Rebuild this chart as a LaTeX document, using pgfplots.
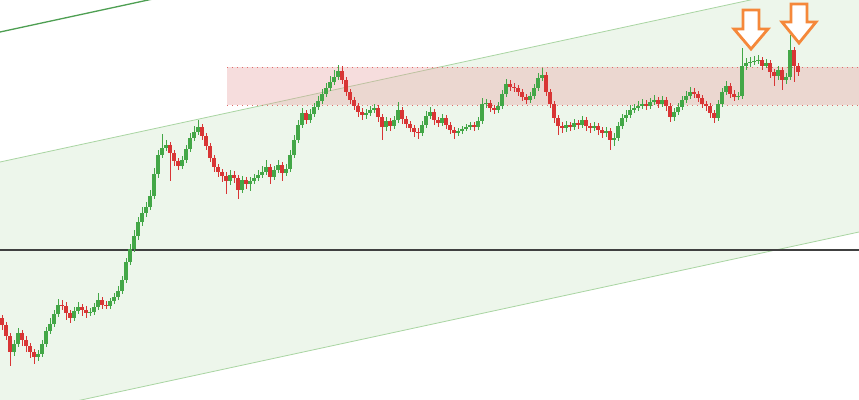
\documentclass[border=0pt]{standalone}
\usepackage{pgfplots}
\usepackage{pgfplotstable}
\pgfplotsset{compat=1.18}
\definecolor{bandfill}{HTML}{EDF6EB}
\definecolor{bandline}{HTML}{A9D5A2}
\definecolor{chanline}{HTML}{4E9F52}
\definecolor{upc}{HTML}{43A747}
\definecolor{dnc}{HTML}{D83535}
\definecolor{zonefill}{HTML}{E8A0A0}
\definecolor{zoneline}{HTML}{E06A6A}
\definecolor{arrowc}{HTML}{F5883A}
\pgfplotstableread{
x o c h l
2 318 325 315 330
6 325 336 322 340
10 336 352 333 366
14 352 344 340 356
18 344 333 328 347
22 333 340 330 346
26 340 346 336 352
30 346 352 343 358
34 352 357 349 364
38 357 354 350 361
42 354 344 340 357
46 344 331 327 347
50 331 324 318 334
54 324 314 310 327
58 314 305 299 317
62 305 306 300 310
66 306 313 302 320
70 313 318 310 323
74 318 311 307 321
78 311 307 302 314
82 307 310 304 316
86 310 313 306 318
90 313 312 308 316
94 312 307 303 315
98 307 300 293 310
102 300 305 297 309
106 305 306 301 309
110 306 301 298 309
114 301 297 293 304
118 297 291 286 300
122 291 280 276 294
126 280 262 258 283
130 262 249 244 265
134 249 236 230 252
138 236 222 217 240
142 222 213 207 226
146 213 207 202 217
150 207 196 190 210
154 196 174 168 199
158 174 155 150 178
162 155 148 134 158
166 148 145 140 151
170 145 153 142 181
174 153 161 150 166
178 161 166 158 170
182 166 160 156 169
186 160 149 145 163
190 149 138 133 152
194 138 132 126 141
198 132 127 120 135
202 127 136 124 140
206 136 146 133 150
210 146 158 143 162
214 158 167 155 172
218 167 172 164 177
222 172 176 169 182
226 176 181 172 194
230 181 175 170 185
234 175 178 171 183
238 178 190 175 199
242 190 180 176 193
246 180 184 177 189
250 184 181 177 191
254 181 178 174 184
258 178 175 170 181
262 175 172 166 178
266 172 167 160 175
270 167 177 164 184
274 177 170 166 180
278 170 165 160 173
282 165 173 162 181
286 173 169 164 176
290 169 155 150 172
294 155 140 135 158
298 140 125 120 143
302 125 113 108 128
306 113 120 110 124
310 120 114 109 123
314 114 107 103 117
318 107 101 96 110
322 101 94 89 104
326 94 88 83 97
330 88 82 76 91
334 82 77 70 85
338 77 71 65 80
342 71 80 66 84
346 80 92 77 96
350 92 100 89 104
354 100 106 97 110
358 106 112 103 117
362 112 115 108 120
366 115 113 109 119
370 113 110 106 116
374 110 108 104 113
378 108 117 105 122
382 117 127 114 140
386 127 121 117 131
390 121 126 118 131
394 126 120 116 129
398 120 110 102 123
402 110 119 107 124
406 119 124 116 128
410 124 128 121 132
414 128 132 125 137
418 132 133 128 139
422 133 125 121 136
426 125 116 111 128
430 116 112 107 119
434 112 120 109 125
438 120 123 117 127
442 123 118 114 126
446 118 125 115 129
450 125 130 122 134
454 130 133 127 139
458 133 131 128 136
462 131 129 126 134
466 129 127 124 131
470 127 125 122 130
474 125 127 122 131
478 127 121 117 130
482 121 104 98 124
486 104 103 99 108
490 103 108 100 112
494 108 110 105 114
498 110 106 102 113
502 106 94 90 109
506 94 84 79 97
510 84 87 80 91
514 87 88 83 92
518 88 92 85 96
522 92 97 89 101
526 97 100 94 104
530 100 96 92 103
534 96 88 84 99
538 88 78 73 91
542 78 75 68 81
546 75 92 72 96
550 92 104 89 108
554 104 118 101 123
558 118 126 115 135
562 126 128 122 133
566 128 125 121 132
570 125 127 122 131
574 127 123 119 130
578 123 125 120 129
582 125 120 116 128
586 120 126 117 131
590 126 128 123 133
594 128 126 122 131
598 126 130 123 135
602 130 133 127 138
606 133 131 127 137
610 131 140 128 150
614 140 138 133 146
618 138 126 122 141
622 126 118 114 129
626 118 115 110 122
630 115 110 105 118
634 110 108 104 113
638 108 106 101 111
642 106 104 99 109
646 104 106 100 110
650 106 102 98 109
654 102 100 95 105
658 100 104 97 108
662 104 100 96 107
666 100 106 97 111
670 106 117 103 122
674 117 112 108 121
678 112 107 103 115
682 107 100 96 110
686 100 96 91 103
690 96 92 87 99
694 92 94 88 98
698 94 98 91 102
702 98 104 95 108
706 104 106 101 111
710 106 113 103 118
714 113 118 110 123
718 118 104 100 121
722 104 92 88 107
726 92 86 81 95
730 86 94 83 98
734 94 97 90 101
738 97 96 92 100
742 96 66 48 99
746 66 63 58 70
750 63 62 57 67
754 62 61 56 65
758 61 60 55 64
762 60 66 57 70
766 66 63 59 68
770 63 72 60 78
774 72 76 69 86
778 76 70 66 80
782 70 80 67 90
786 80 77 73 84
790 77 50 35 80
794 50 66 47 82
798 66 72 63 76
}\candles
\begin{document}
\begin{tikzpicture}
\begin{axis}[scale only axis, width=859bp, height=400bp,
  xmin=0, xmax=859, ymin=0, ymax=400, y dir=reverse,
  hide axis, clip=true]
\addplot[fill=white, draw=none] coordinates {(0,0)(859,0)(859,400)(0,400)} -- cycle;
\addplot[fill=bandfill, draw=none] coordinates {(0,162)(859,-23.5)(859,232)(0,417.5)} -- cycle;
\addplot[bandline, line width=0.8bp] coordinates {(0,162)(859,-23.5)};
\addplot[bandline, line width=0.8bp] coordinates {(0,417.5)(859,232)};
\addplot[chanline, line width=1.3bp] coordinates {(0,32)(200,-11.2)};
\addplot[color=black!75, line width=2bp] coordinates {(0,250)(859,250)};
\addplot[fill=zonefill, fill opacity=0.35, draw=none] coordinates {(227,67)(859,67)(859,105)(227,105)} -- cycle;
\addplot[zoneline, dash pattern=on 1bp off 4bp, line width=1bp] coordinates {(227,67.5)(859,67.5)};
\addplot[zoneline, dash pattern=on 1bp off 4bp, line width=1bp] coordinates {(227,105)(859,105)};
% wicks
\addplot[draw=upc, mark=none, line width=1bp, forget plot,
  x filter/.expression={\thisrow{c}<\thisrow{o} ? x : nan},
  quiver={u=0, v=\thisrow{l}-\thisrow{h}}]
  table[x=x, y=h] {\candles};
\addplot[draw=dnc, mark=none, line width=1bp, forget plot,
  x filter/.expression={\thisrow{c}>\thisrow{o} ? x : nan},
  quiver={u=0, v=\thisrow{l}-\thisrow{h}}]
  table[x=x, y=h] {\candles};
% bodies
\addplot[draw=upc, mark=none, line width=3.3bp, forget plot,
  x filter/.expression={\thisrow{c}<\thisrow{o} ? x : nan},
  quiver={u=0, v=\thisrow{o}-\thisrow{c}}]
  table[x=x, y=c] {\candles};
\addplot[draw=dnc, mark=none, line width=3.3bp, forget plot,
  x filter/.expression={\thisrow{c}>\thisrow{o} ? x : nan},
  quiver={u=0, v=\thisrow{c}-\thisrow{o}}]
  table[x=x, y=o] {\candles};
% arrows
\addplot[draw=arrowc, fill=white, line width=2.8bp, line join=miter]
  coordinates {(743,10)(759,10)(759,29)(768,29)(751,49)(734,29)(743,29)} -- cycle;
\addplot[draw=arrowc, fill=white, line width=2.8bp, line join=miter]
  coordinates {(791,4)(807,4)(807,22)(816,22)(799,43)(782,22)(791,22)} -- cycle;
\end{axis}
\end{tikzpicture}
\end{document}
